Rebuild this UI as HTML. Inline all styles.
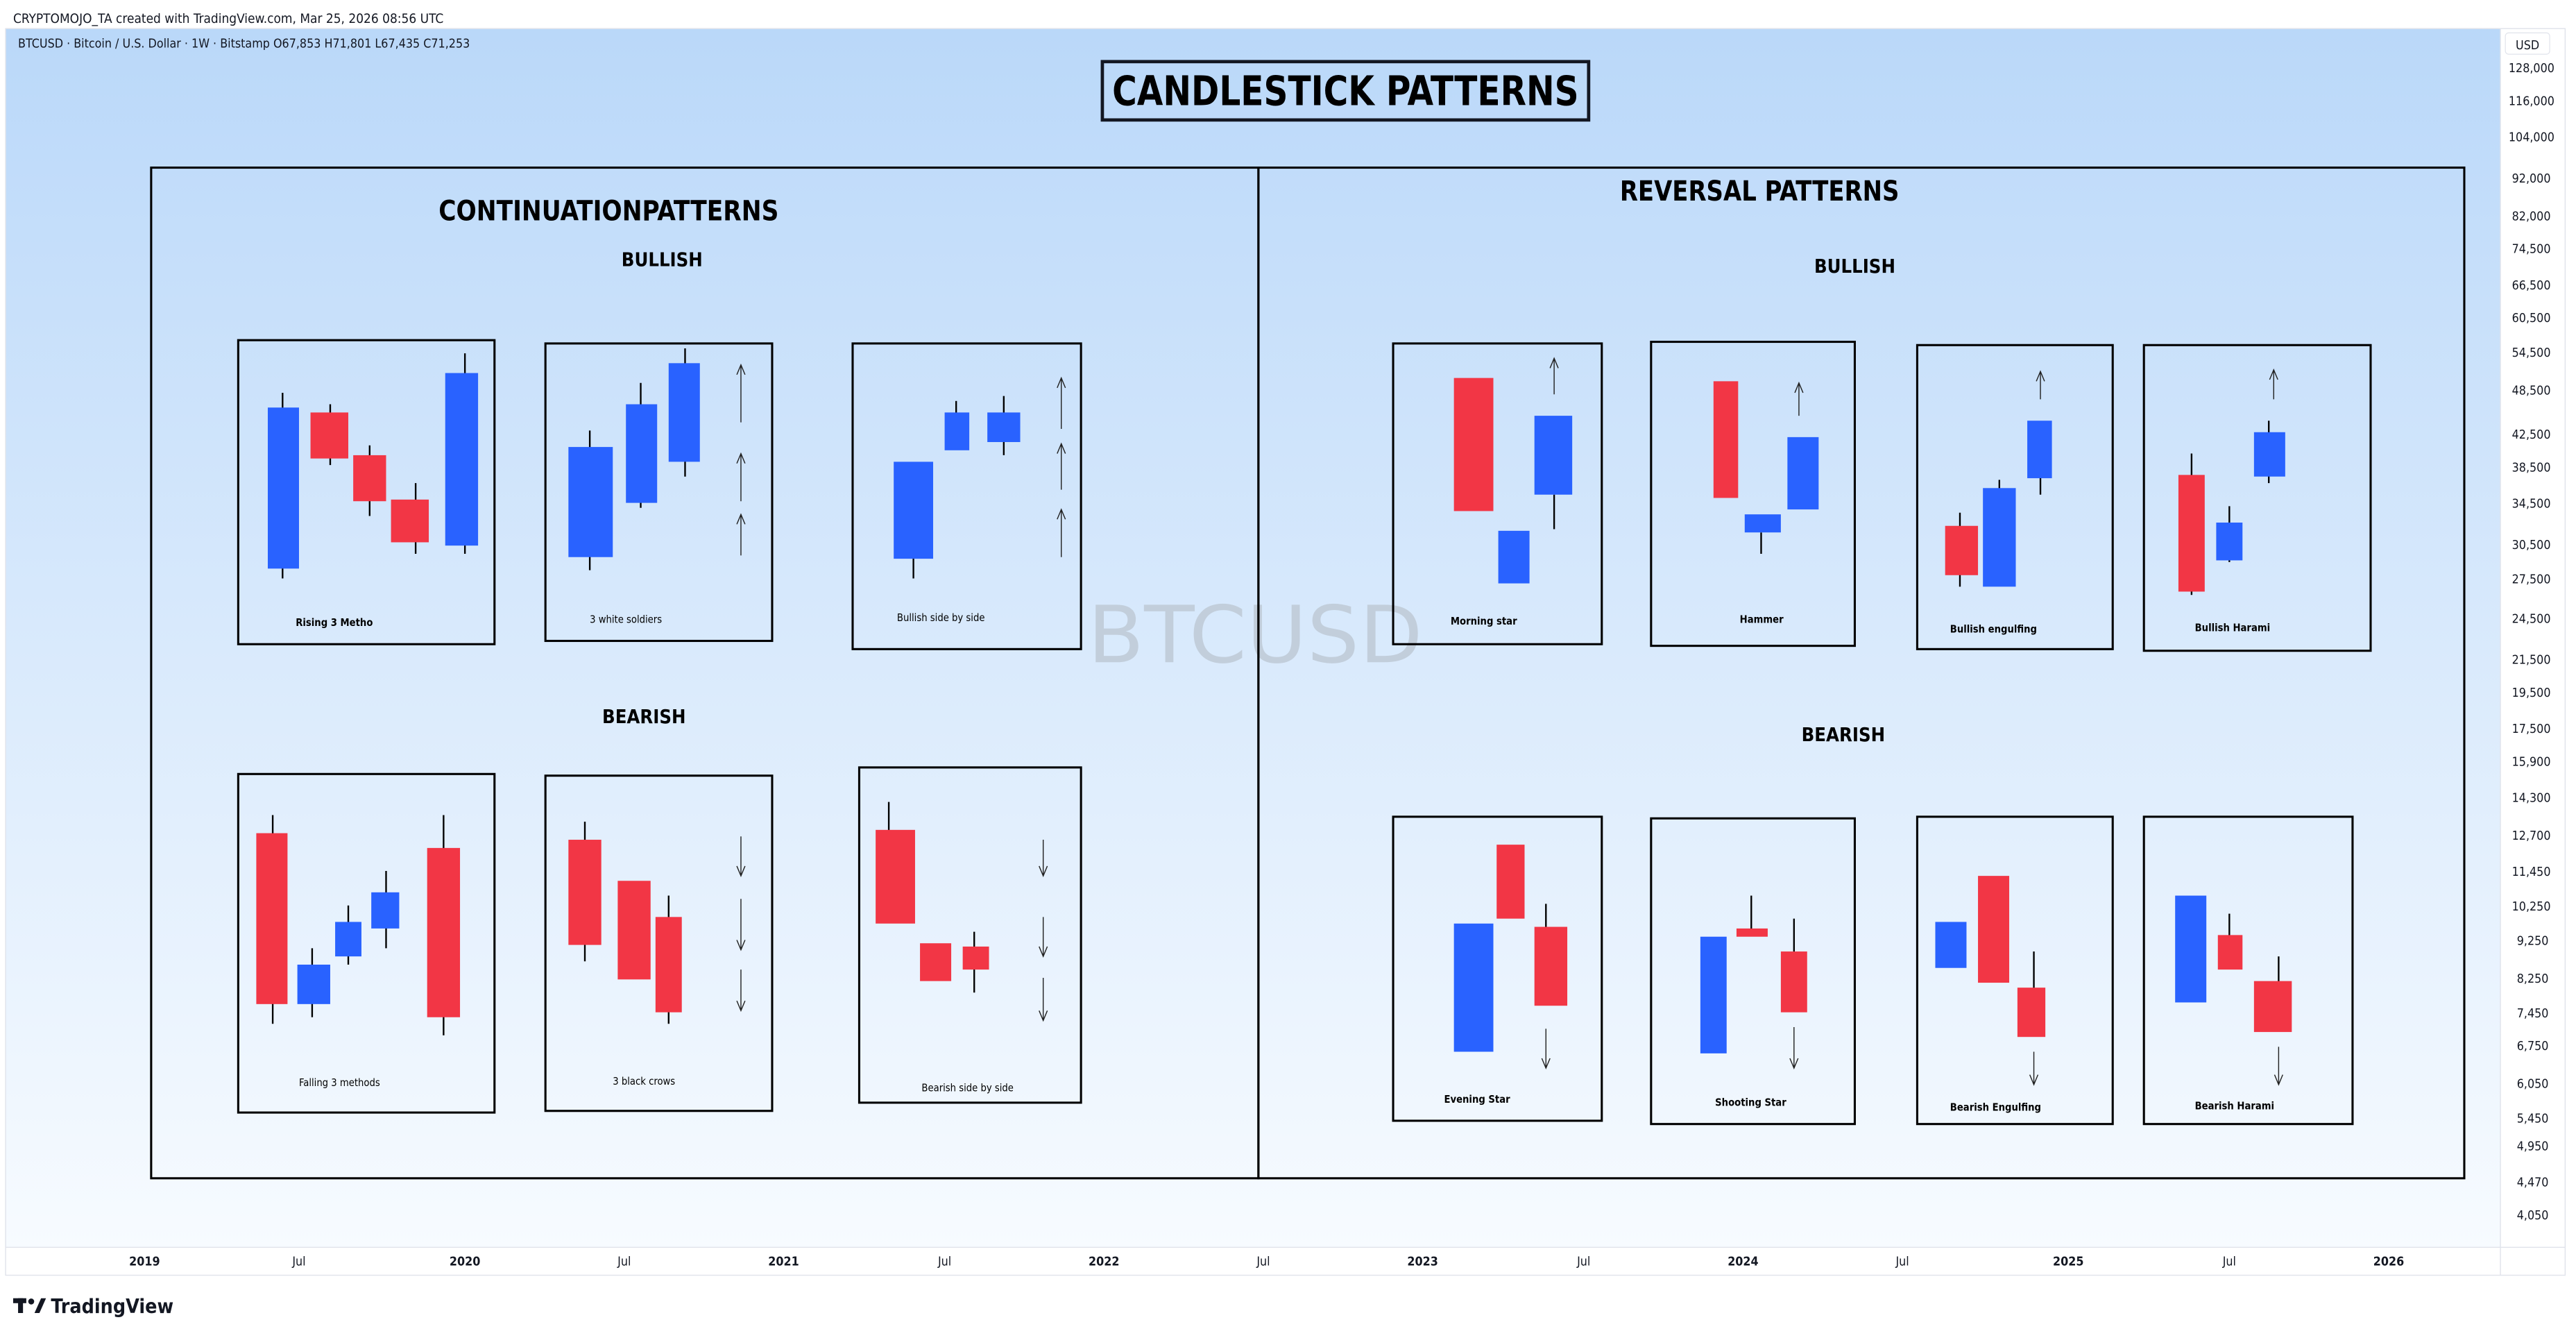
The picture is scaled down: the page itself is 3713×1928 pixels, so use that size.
<!DOCTYPE html>
<html><head><meta charset="utf-8"><style>
html,body{margin:0;padding:0;background:#fff;}
svg{display:block;}
text{font-family:"DejaVu Sans Condensed","DejaVu Sans","Liberation Sans",sans-serif;}
</style></head><body>
<svg width="3713" height="1928" viewBox="0 0 1568 814.2" xmlns="http://www.w3.org/2000/svg">
<defs>
<linearGradient id="bg" x1="0" y1="0" x2="0" y2="1">
<stop offset="0" stop-color="#bad8f9"/><stop offset="1" stop-color="#f7fbff"/>
</linearGradient>
</defs>
<rect x="0" y="0" width="1568" height="815" fill="#fff"/>
<text x="8" y="14" font-size="8" fill="#131722">CRYPTOMOJO_TA created with TradingView.com, Mar 25, 2026 08:56 UTC</text>
<rect x="3.4" y="17.4" width="1518.6" height="741.6" fill="url(#bg)"/>
<rect x="1522" y="17.4" width="39.5" height="741.6" fill="#fff" opacity="0.5"/>
<line x1="1522" y1="17.4" x2="1522" y2="776" stroke="#e0e3eb" stroke-width="0.6"/>
<line x1="3.4" y1="759" x2="1561.5" y2="759" stroke="#e0e3eb" stroke-width="0.6"/>
<rect x="3.4" y="17.4" width="1558" height="758.6" fill="none" stroke="#e0e3eb" stroke-width="0.6"/>
<text x="11" y="29" font-size="7.5" fill="#131722">BTCUSD · Bitcoin / U.S. Dollar · 1W · Bitstamp  O67,853  H71,801  L67,435  C71,253</text>
<rect x="1525" y="20" width="27" height="13" rx="2" fill="#fff" stroke="#e0e3eb" stroke-width="0.5"/>
<text x="1538.5" y="30" font-size="7.5" fill="#131722" text-anchor="middle">USD</text>
<g font-size="7.5" fill="#131722">
<text x="1527" y="44">128,000</text><text x="1527" y="64">116,000</text><text x="1527" y="86">104,000</text>
<text x="1529" y="111">92,000</text><text x="1529" y="134">82,000</text><text x="1529" y="154">74,500</text>
<text x="1529" y="176">66,500</text><text x="1529" y="196">60,500</text><text x="1529" y="217">54,500</text>
<text x="1529" y="240">48,500</text><text x="1529" y="267">42,500</text><text x="1529" y="287">38,500</text>
<text x="1529" y="309">34,500</text><text x="1529" y="334">30,500</text><text x="1529" y="355">27,500</text>
<text x="1529" y="379">24,500</text><text x="1529" y="404">21,500</text><text x="1529" y="424">19,500</text>
<text x="1529" y="446">17,500</text><text x="1529" y="466">15,900</text><text x="1529" y="488">14,300</text>
<text x="1529" y="511">12,700</text><text x="1529" y="533">11,450</text><text x="1529" y="554">10,250</text>
<text x="1532" y="575">9,250</text><text x="1532" y="598">8,250</text><text x="1532" y="619">7,450</text>
<text x="1532" y="639">6,750</text><text x="1532" y="662">6,050</text><text x="1532" y="683">5,450</text>
<text x="1532" y="700">4,950</text><text x="1532" y="722">4,470</text><text x="1532" y="742">4,050</text>
</g>
<g font-size="7.5" fill="#131722" text-anchor="middle">
<text x="88" y="770" font-weight="bold">2019</text><text x="182" y="770">Jul</text>
<text x="283" y="770" font-weight="bold">2020</text><text x="380" y="770">Jul</text>
<text x="477" y="770" font-weight="bold">2021</text><text x="575" y="770">Jul</text>
<text x="672" y="770" font-weight="bold">2022</text><text x="769" y="770">Jul</text>
<text x="866" y="770" font-weight="bold">2023</text><text x="964" y="770">Jul</text>
<text x="1061" y="770" font-weight="bold">2024</text><text x="1158" y="770">Jul</text>
<text x="1259" y="770" font-weight="bold">2025</text><text x="1357" y="770">Jul</text>
<text x="1454" y="770" font-weight="bold">2026</text>
</g>
<g fill="#131722">
<rect x="8" y="790" width="8" height="3"/><rect x="11" y="790" width="3" height="9"/>
<circle cx="19" cy="792" r="1.8"/><path d="M21 799 L25 790 L28 790 L24 799Z"/>
<text x="31" y="799" font-size="12" font-weight="bold" font-family="Liberation Sans,sans-serif">TradingView</text>
</g>
<text x="662" y="403" font-size="48" fill="#c2cedb" textLength="204" lengthAdjust="spacingAndGlyphs" font-family="Liberation Sans,sans-serif">BTCUSD</text>
<rect x="671" y="37.5" width="296" height="35.5" fill="none" stroke="#131722" stroke-width="2"/>
<text x="677" y="64" font-size="25" font-weight="bold" textLength="284" lengthAdjust="spacingAndGlyphs" fill="#000">CANDLESTICK PATTERNS</text>
<rect x="92" y="102" width="674" height="615" fill="none" stroke="#000" stroke-width="1.3"/>
<rect x="766" y="102" width="734" height="615" fill="none" stroke="#000" stroke-width="1.3"/>
<g font-weight="bold" fill="#000">
<text x="267" y="134" font-size="17" textLength="207" lengthAdjust="spacingAndGlyphs">CONTINUATIONPATTERNS</text>
<text x="986" y="122" font-size="17" textLength="170" lengthAdjust="spacingAndGlyphs">REVERSAL PATTERNS</text>
<text x="403" y="162" font-size="11.5" text-anchor="middle">BULLISH</text>
<text x="392" y="440" font-size="11.5" text-anchor="middle">BEARISH</text>
<text x="1129" y="166" font-size="11.5" text-anchor="middle">BULLISH</text>
<text x="1122" y="451" font-size="11.5" text-anchor="middle">BEARISH</text>
</g>
<g fill="none" stroke="#000" stroke-width="1.3">
<rect x="145" y="207" width="156" height="185"/>
<rect x="332" y="209" width="138" height="181"/>
<rect x="519" y="209" width="139" height="186"/>
<rect x="145" y="471" width="156" height="206"/>
<rect x="332" y="472" width="138" height="204"/>
<rect x="523" y="467" width="135" height="204"/>
<rect x="848" y="209" width="127" height="183"/>
<rect x="1005" y="208" width="124" height="185"/>
<rect x="1167" y="210" width="119" height="185"/>
<rect x="1305" y="210" width="138" height="186"/>
<rect x="848" y="497" width="127" height="185"/>
<rect x="1005" y="498" width="124" height="186"/>
<rect x="1167" y="497" width="119" height="187"/>
<rect x="1305" y="497" width="127" height="187"/>
</g>
<g stroke="#000" stroke-width="1">
<line x1="172" y1="239" x2="172" y2="352"/><line x1="201" y1="246" x2="201" y2="283"/>
<line x1="225" y1="271" x2="225" y2="314"/><line x1="253" y1="294" x2="253" y2="337"/>
<line x1="283" y1="215" x2="283" y2="337"/>
<line x1="359" y1="262" x2="359" y2="347"/><line x1="390" y1="233" x2="390" y2="309"/>
<line x1="417" y1="212" x2="417" y2="290"/>
<line x1="556" y1="330" x2="556" y2="352"/><line x1="582" y1="244" x2="582" y2="260"/>
<line x1="611" y1="241" x2="611" y2="277"/>
<line x1="166" y1="496" x2="166" y2="623"/><line x1="190" y1="577" x2="190" y2="619"/>
<line x1="212" y1="551" x2="212" y2="587"/><line x1="235" y1="530" x2="235" y2="577"/>
<line x1="270" y1="496" x2="270" y2="630"/>
<line x1="356" y1="500" x2="356" y2="585"/><line x1="407" y1="545" x2="407" y2="623"/>
<line x1="541" y1="488" x2="541" y2="510"/><line x1="593" y1="567" x2="593" y2="604"/>
<line x1="946" y1="301" x2="946" y2="322"/><line x1="1072" y1="324" x2="1072" y2="337"/>
<line x1="1193" y1="312" x2="1193" y2="357"/><line x1="1217" y1="292" x2="1217" y2="300"/>
<line x1="1242" y1="290" x2="1242" y2="301"/>
<line x1="1334" y1="276" x2="1334" y2="362"/><line x1="1357" y1="308" x2="1357" y2="342"/>
<line x1="1381" y1="256" x2="1381" y2="294"/>
<line x1="941" y1="550" x2="941" y2="566"/><line x1="1066" y1="545" x2="1066" y2="566"/>
<line x1="1092" y1="559" x2="1092" y2="581"/><line x1="1238" y1="579" x2="1238" y2="603"/>
<line x1="1357" y1="556" x2="1357" y2="570"/><line x1="1387" y1="582" x2="1387" y2="599"/>
</g>
<g fill="#2962ff">
<rect x="163" y="248" width="19" height="98"/><rect x="271" y="227" width="20" height="105"/>
<rect x="346" y="272" width="27" height="67"/><rect x="381" y="246" width="19" height="60"/>
<rect x="407" y="221" width="19" height="60"/>
<rect x="544" y="281" width="24" height="59"/><rect x="575" y="251" width="15" height="23"/>
<rect x="601" y="251" width="20" height="18"/>
<rect x="181" y="587" width="20" height="24"/><rect x="204" y="561" width="16" height="21"/>
<rect x="226" y="543" width="17" height="22"/>
<rect x="912" y="323" width="19" height="32"/><rect x="934" y="253" width="23" height="48"/>
<rect x="1062" y="313" width="22" height="11"/><rect x="1088" y="266" width="19" height="44"/>
<rect x="1207" y="297" width="20" height="60"/><rect x="1234" y="256" width="15" height="35"/>
<rect x="1349" y="318" width="16" height="23"/><rect x="1372" y="263" width="19" height="27"/>
<rect x="885" y="562" width="24" height="78"/><rect x="1035" y="570" width="16" height="71"/>
<rect x="1178" y="561" width="19" height="28"/><rect x="1324" y="545" width="19" height="65"/>
</g>
<g fill="#f23645">
<rect x="189" y="251" width="23" height="28"/><rect x="215" y="277" width="20" height="28"/>
<rect x="238" y="304" width="23" height="26"/>
<rect x="156" y="507" width="19" height="104"/><rect x="260" y="516" width="20" height="103"/>
<rect x="346" y="511" width="20" height="64"/><rect x="376" y="536" width="20" height="60"/>
<rect x="399" y="558" width="16" height="58"/>
<rect x="533" y="505" width="24" height="57"/><rect x="560" y="574" width="19" height="23"/>
<rect x="586" y="576" width="16" height="14"/>
<rect x="885" y="230" width="24" height="81"/><rect x="1043" y="232" width="15" height="71"/>
<rect x="1184" y="320" width="20" height="30"/><rect x="1326" y="289" width="16" height="71"/>
<rect x="911" y="514" width="17" height="45"/><rect x="934" y="564" width="20" height="48"/>
<rect x="1057" y="565" width="19" height="5"/><rect x="1084" y="579" width="16" height="37"/>
<rect x="1204" y="533" width="19" height="65"/><rect x="1228" y="601" width="17" height="30"/>
<rect x="1350" y="569" width="15" height="21"/><rect x="1372" y="597" width="23" height="31"/>
</g>
<g stroke="#222" stroke-width="0.6" fill="none">
<path d="M451 257V222M448.5 228L451 222L453.5 228"/><path d="M451 305V276M448.5 282L451 276L453.5 282"/>
<path d="M451 338V313M448.5 319L451 313L453.5 319"/>
<path d="M646 261V230M643.5 236L646 230L648.5 236"/><path d="M646 298V270M643.5 276L646 270L648.5 276"/>
<path d="M646 339V310M643.5 316L646 310L648.5 316"/>
<path d="M451 509V533M448.5 527L451 533L453.5 527"/><path d="M451 547V578M448.5 572L451 578L453.5 572"/>
<path d="M451 590V615M448.5 609L451 615L453.5 609"/>
<path d="M635 511V533M632.5 527L635 533L637.5 527"/><path d="M635 558V582M632.5 576L635 582L637.5 576"/>
<path d="M635 595V621M632.5 615L635 621L637.5 615"/>
<path d="M946 240V218M943.5 224L946 218L948.5 224"/><path d="M1095 253V233M1092.5 239L1095 233L1097.5 239"/>
<path d="M1242 243V226M1239.5 232L1242 226L1244.5 232"/><path d="M1384 243V225M1381.5 231L1384 225L1386.5 231"/>
<path d="M941 626V650M938.5 644L941 650L943.5 644"/><path d="M1092 625V650M1089.5 644L1092 650L1094.5 644"/>
<path d="M1238 640V660M1235.5 654L1238 660L1240.5 654"/><path d="M1387 637V660M1384.5 654L1387 660L1389.5 654"/>
</g>
<g font-size="6.2" fill="#000">
<text x="180" y="381" font-weight="bold">Rising 3 Metho</text>
<text x="359" y="379">3 white soldiers</text>
<text x="546" y="378">Bullish side by side</text>
<text x="182" y="661">Falling 3 methods</text>
<text x="373" y="660">3 black crows</text>
<text x="561" y="664">Bearish side by side</text>
<text x="883" y="380" font-weight="bold">Morning star</text>
<text x="1059" y="379" font-weight="bold">Hammer</text>
<text x="1187" y="385" font-weight="bold">Bullish engulfing</text>
<text x="1336" y="384" font-weight="bold">Bullish Harami</text>
<text x="879" y="671" font-weight="bold">Evening Star</text>
<text x="1044" y="673" font-weight="bold">Shooting Star</text>
<text x="1187" y="676" font-weight="bold">Bearish Engulfing</text>
<text x="1336" y="675" font-weight="bold">Bearish Harami</text>
</g>
</svg>
</body></html>
